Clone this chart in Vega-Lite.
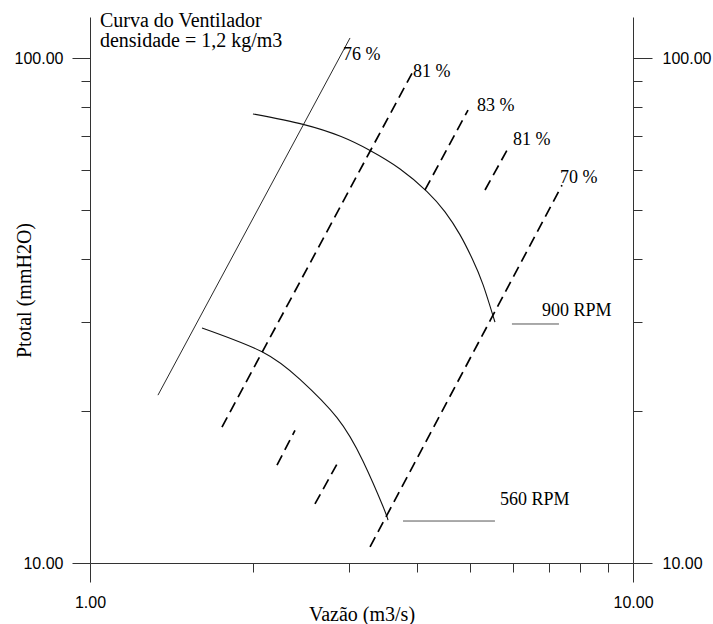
{
  "$schema": "https://vega.github.io/schema/vega-lite/v6.json",
  "width": 543,
  "height": 546,
  "autosize": {"type": "none"},
  "padding": {"left": 90, "top": 17, "right": 80, "bottom": 61},
  "background": "white",
  "config": {
    "view": {"stroke": null},
    "axis": {
      "grid": false,
      "domainColor": "#333333",
      "tickColor": "#333333",
      "domainWidth": 1,
      "tickWidth": 1,
      "labelFont": "Liberation Sans",
      "labelFontSize": 16,
      "labelColor": "black",
      "labelFlush": false,
      "labelOverlap": false,
      "titleFont": "Liberation Serif",
      "titleFontSize": 20,
      "titleFontWeight": "normal",
      "titleColor": "black"
    }
  },
  "datasets": {
    "fan": [
      {"id": "900 RPM", "Q": 1.996, "P": 77.5},
      {"id": "900 RPM", "Q": 2.468, "P": 73.9},
      {"id": "900 RPM", "Q": 2.9, "P": 69.9},
      {"id": "900 RPM", "Q": 3.279, "P": 65.6},
      {"id": "900 RPM", "Q": 3.724, "P": 60.3},
      {"id": "900 RPM", "Q": 4.175, "P": 54.4},
      {"id": "900 RPM", "Q": 4.506, "P": 49.6},
      {"id": "900 RPM", "Q": 4.8, "P": 44.7},
      {"id": "900 RPM", "Q": 5.06, "P": 40.0},
      {"id": "900 RPM", "Q": 5.294, "P": 35.6},
      {"id": "900 RPM", "Q": 5.569, "P": 30.0},
      {"id": "560 RPM", "Q": 1.608, "P": 29.2},
      {"id": "560 RPM", "Q": 2.074, "P": 26.2},
      {"id": "560 RPM", "Q": 2.436, "P": 23.1},
      {"id": "560 RPM", "Q": 2.85, "P": 19.4},
      {"id": "560 RPM", "Q": 3.183, "P": 15.9},
      {"id": "560 RPM", "Q": 3.463, "P": 12.95},
      {"id": "560 RPM", "Q": 3.539, "P": 12.16}
    ],
    "eff": [
      {"id": "81a", "Q": 1.75, "P": 18.59},
      {"id": "81a", "Q": 3.917, "P": 93.3},
      {"id": "83a", "Q": 4.139, "P": 54.8},
      {"id": "83a", "Q": 4.968, "P": 78.9},
      {"id": "83b", "Q": 2.21, "P": 15.63},
      {"id": "83b", "Q": 2.385, "P": 18.3},
      {"id": "81b", "Q": 5.339, "P": 54.8},
      {"id": "81b", "Q": 5.861, "P": 65.7},
      {"id": "81c", "Q": 2.596, "P": 13.09},
      {"id": "81c", "Q": 2.85, "P": 15.7},
      {"id": "70", "Q": 3.279, "P": 10.76},
      {"id": "70", "Q": 7.399, "P": 56.0}
    ],
    "sys": [
      {"id": "76", "Q": 1.334, "P": 21.5},
      {"id": "76", "Q": 3.012, "P": 109.6}
    ],
    "under": [
      {"Q": 5.985, "Q2": 7.306, "P": 29.74},
      {"Q": 3.771, "Q2": 5.569, "P": 12.11}
    ],
    "labels": [
      {"Q": 2.923, "P": 101.4, "label": "76 %"},
      {"Q": 3.934, "P": 93.8, "label": "81 %"},
      {"Q": 5.161, "P": 80.4, "label": "83 %"},
      {"Q": 6.012, "P": 68.8, "label": "81 %"},
      {"Q": 7.337, "P": 57.9, "label": "70 %"},
      {"Q": 6.798, "P": 31.55, "label": "900 RPM"},
      {"Q": 5.69, "P": 13.33, "label": "560 RPM"}
    ],
    "header": [
      {"Q": 1.043, "P": 115.2, "label": "Curva do Ventilador\ndensidade = 1,2 kg/m3"}
    ]
  },
  "encoding": {
    "x": {
      "field": "Q", "type": "quantitative",
      "scale": {"type": "log", "domain": [1, 10], "nice": false},
      "axis": {
        "values": [1, 2, 3, 4, 5, 6, 7, 8, 9, 10],
        "labelExpr": "datum.value == 1 || datum.value == 10 ? format(datum.value, '.2f') : ''",
        "tickSize": {"condition": {"test": "datum.value == 1 || datum.value == 10", "value": 19}, "value": 9},
        "labelPadding": 12,
        "title": "Vazão (m3/s)",
        "titleBaseline": "alphabetic",
        "titleY": 57
      }
    }
  },
  "layer": [
    {
      "data": {"name": "fan"},
      "mark": {"type": "line", "interpolate": "natural", "color": "#111111", "strokeWidth": 1.1},
      "encoding": {
        "y": {
          "field": "P", "type": "quantitative",
          "scale": {"type": "log", "domain": [10, 120.6], "nice": false},
          "axis": {
            "orient": "left",
            "values": [10, 20, 30, 40, 50, 60, 70, 80, 90, 100],
            "labelExpr": "datum.value == 10 || datum.value == 100 ? format(datum.value, '.2f') : ''",
            "tickSize": {"condition": {"test": "datum.value == 10 || datum.value == 100", "value": 18}, "value": 9},
            "labelPadding": 9,
            "title": "Ptotal (mmH2O)",
            "titleX": -66,
            "titleY": 273,
            "titleBaseline": "middle"
          }
        },
        "detail": {"field": "id"}
      }
    },
    {
      "data": {"name": "eff"},
      "mark": {"type": "line", "color": "black", "strokeWidth": 1.7, "strokeDash": [11, 6]},
      "encoding": {
        "y": {
          "field": "P", "type": "quantitative",
          "scale": {"type": "log", "domain": [10, 120.6], "nice": false},
          "axis": {
            "orient": "right",
            "values": [10, 20, 30, 40, 50, 60, 70, 80, 90, 100],
            "labelExpr": "datum.value == 10 || datum.value == 100 ? format(datum.value, '.2f') : ''",
            "tickSize": {"condition": {"test": "datum.value == 10 || datum.value == 100", "value": 19}, "value": 9},
            "labelPadding": 10,
            "title": null
          }
        },
        "detail": {"field": "id"}
      }
    },
    {
      "data": {"name": "sys"},
      "mark": {"type": "line", "color": "#111111", "strokeWidth": 0.9},
      "encoding": {
        "y": {"field": "P", "type": "quantitative", "axis": null},
        "detail": {"field": "id"}
      }
    },
    {
      "data": {"name": "under"},
      "mark": {"type": "rule", "color": "#555555", "strokeWidth": 1},
      "encoding": {
        "x2": {"field": "Q2"},
        "y": {"field": "P", "type": "quantitative", "axis": null}
      }
    },
    {
      "data": {"name": "labels"},
      "mark": {"type": "text", "font": "Liberation Serif", "fontSize": 18, "align": "left", "baseline": "middle", "color": "black"},
      "encoding": {
        "y": {"field": "P", "type": "quantitative", "axis": null},
        "text": {"field": "label"}
      }
    },
    {
      "data": {"name": "header"},
      "mark": {"type": "text", "font": "Liberation Serif", "fontSize": 20, "align": "left", "baseline": "alphabetic", "lineBreak": "\n", "lineHeight": 20, "color": "black"},
      "encoding": {
        "y": {"field": "P", "type": "quantitative", "axis": null},
        "text": {"field": "label"}
      }
    }
  ],
  "resolve": {"axis": {"y": "independent"}}
}
